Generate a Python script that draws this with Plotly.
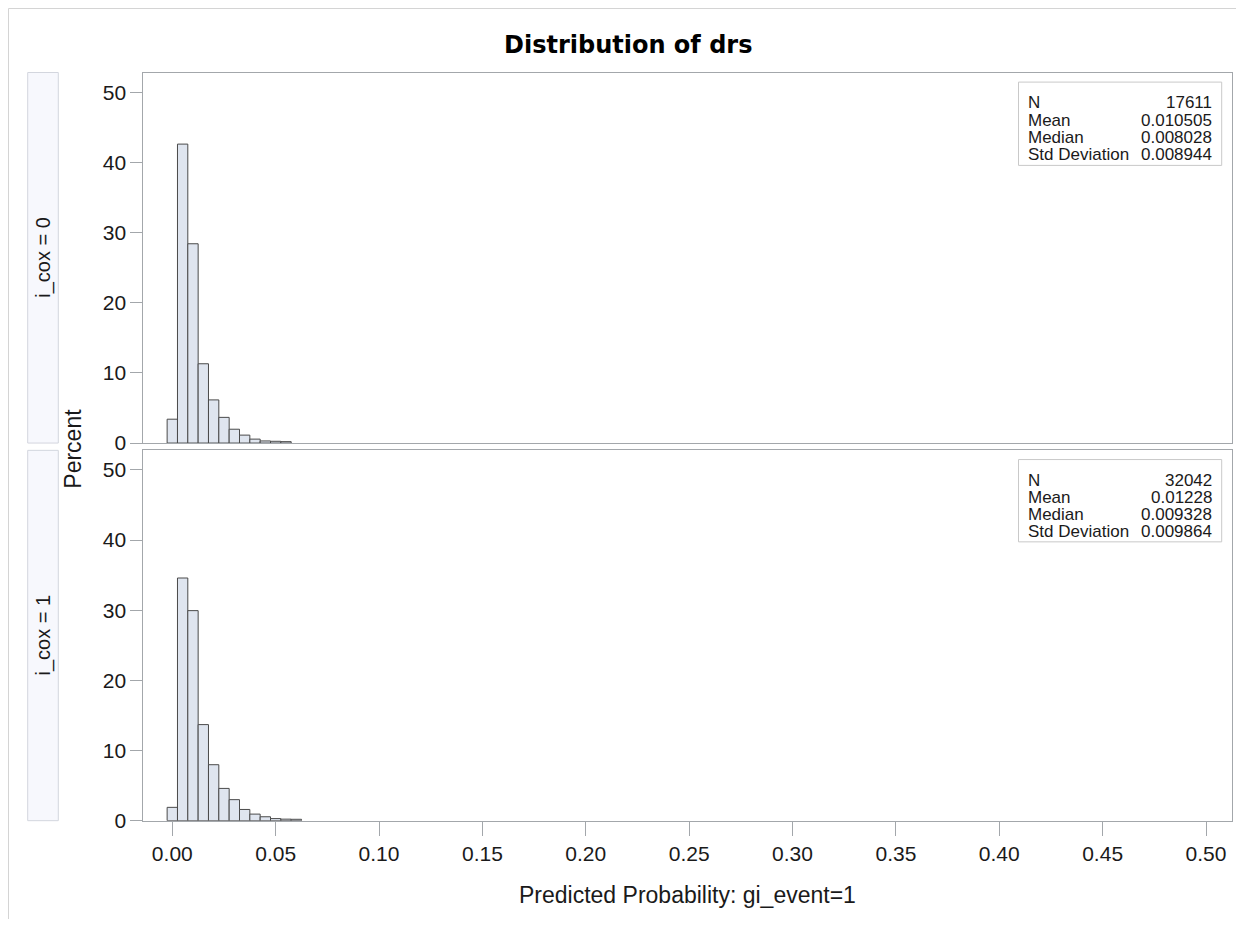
import plotly.graph_objects as go

# ---------------- data ----------------
bin_mid_cox0 = [0.000, 0.005, 0.010, 0.015, 0.020, 0.025, 0.030, 0.035, 0.040, 0.045, 0.050, 0.055]
pct_cox0 = [3.4, 42.6, 28.4, 11.3, 6.15, 3.66, 1.97, 1.13, 0.56, 0.30, 0.25, 0.20]

bin_mid_cox1 = [0.000, 0.005, 0.010, 0.015, 0.020, 0.025, 0.030, 0.035, 0.040, 0.045, 0.050, 0.055, 0.060]
pct_cox1 = [1.9, 34.6, 29.95, 13.7, 7.98, 4.6, 3.0, 1.6, 0.94, 0.56, 0.30, 0.22, 0.20]

bin_width = 0.005

x_tickvals = [0.00, 0.05, 0.10, 0.15, 0.20, 0.25, 0.30, 0.35, 0.40, 0.45, 0.50]
x_ticktext = ["0.00", "0.05", "0.10", "0.15", "0.20", "0.25", "0.30", "0.35", "0.40", "0.45", "0.50"]
y_tickvals = [0, 10, 20, 30, 40, 50]
y_ticktext = ["0", "10", "20", "30", "40", "50"]

stat_labels = ["N", "Mean", "Median", "Std Deviation"]
stats_cox0 = ["17611", "0.010505", "0.008028", "0.008944"]
stats_cox1 = ["32042", "0.01228", "0.009328", "0.009864"]

strip_labels = ["i_cox = 0", "i_cox = 1"]
title_text = "Distribution of drs"
x_title = "Predicted Probability: gi_event=1"
y_title = "Percent"

# ---------------- layout helpers (image pixel -> paper) ----------------
W, H = 1228, 922
OFF = 8  # default body margin of the page


def px(X):
    return (X - OFF) / W


def py(Y):
    return 1 - (Y - OFF) / H


FONT = "Liberation Sans, Arial, Helvetica, sans-serif"
TXT = "#1a1a1a"
AXC = "#a3a7ab"
BAR_FILL = "#dfe5ef"
BAR_LINE = "#4a4a4a"

PL, PR = 143.3, 1231.7
TOP_Y0, TOP_Y1 = 73.3, 448.3
BOT_Y0, BOT_Y1 = 455.7, 830.5

fig = go.Figure()

fig.add_trace(go.Bar(
    x=bin_mid_cox0, y=pct_cox0, width=[bin_width] * len(bin_mid_cox0),
    marker=dict(color=BAR_FILL, line=dict(color=BAR_LINE, width=1)),
    xaxis="x", yaxis="y", showlegend=False, hoverinfo="x+y"))
fig.add_trace(go.Bar(
    x=bin_mid_cox1, y=pct_cox1, width=[bin_width] * len(bin_mid_cox1),
    marker=dict(color=BAR_FILL, line=dict(color=BAR_LINE, width=1)),
    xaxis="x2", yaxis="y2", showlegend=False, hoverinfo="x+y"))

xr = [-0.01403, 0.51243]
yr = [0, 52.8]

common_x = dict(range=xr, showline=True, mirror=True, linecolor=AXC, linewidth=1,
                showgrid=False, zeroline=False, fixedrange=True)
common_y = dict(range=yr, showline=True, mirror=True, linecolor=AXC, linewidth=1,
                showgrid=False, zeroline=False, ticks="outside", ticklen=12,
                tickcolor=AXC, tickwidth=1, tickvals=y_tickvals, ticktext=y_ticktext,
                tickfont=dict(family=FONT, size=21, color=TXT), fixedrange=True)

fig.update_layout(
    width=W, height=H,
    margin=dict(l=0, r=0, t=0, b=0, pad=0),
    paper_bgcolor="white", plot_bgcolor="white",
    barmode="overlay",
    xaxis=dict(domain=[px(PL), px(PR)], anchor="y", ticks="", showticklabels=False, **common_x),
    yaxis=dict(domain=[py(TOP_Y1), py(TOP_Y0)], anchor="x", **common_y),
    xaxis2=dict(domain=[px(PL), px(PR)], anchor="y2", ticks="outside", ticklen=14,
                tickcolor=AXC, tickwidth=1, tickvals=x_tickvals, ticktext=x_ticktext,
                tickfont=dict(family=FONT, size=21, color=TXT), **common_x),
    yaxis2=dict(domain=[py(BOT_Y1), py(BOT_Y0)], anchor="x2", **common_y),
)

shapes = []
annotations = []

# outer frame (left and top edges)
fx = 0.5 / W
fy = 1 - 0.5 / H
shapes.append(dict(type="line", xref="paper", yref="paper", x0=fx, x1=1, y0=fy, y1=fy,
                   line=dict(color="#d4d4d4", width=1)))
shapes.append(dict(type="line", xref="paper", yref="paper", x0=fx, x1=fx, y0=0, y1=fy,
                   line=dict(color="#d4d4d4", width=1)))

# strip boxes + labels
for (y0, y1), lab in zip([(TOP_Y0, TOP_Y1), (BOT_Y0, BOT_Y1)], strip_labels):
    shapes.append(dict(type="rect", xref="paper", yref="paper", x0=px(27.7), x1=px(58.3),
                       y0=py(y1), y1=py(y0), fillcolor="#f7f8fd",
                       line=dict(color="#d3d6de", width=1), layer="below"))
    annotations.append(dict(text=lab, xref="paper", yref="paper", x=px(44), y=py((y0 + y1) / 2),
                            xanchor="center", yanchor="middle", textangle=-90, showarrow=False,
                            font=dict(family=FONT, size=20, color=TXT)))

# stats inset boxes
for (bx0, by0, by1), vals in zip([(1018.5, 83.0, 167.3), (1018.5, 465.0, 548.3)], [stats_cox0, stats_cox1]):
    shapes.append(dict(type="rect", xref="paper", yref="paper", x0=px(bx0), x1=px(1221.7),
                       y0=py(by1), y1=py(by0), fillcolor="rgba(255,255,255,0)",
                       line=dict(color="#c9c9c9", width=1)))
    for i, (lab, v) in enumerate(zip(stat_labels, vals)):
        yc = by0 + 21.0 + i * 17.4
        annotations.append(dict(text=lab, xref="paper", yref="paper", x=px(1025.5), y=py(yc),
                                xanchor="left", yanchor="middle", showarrow=False,
                                font=dict(family=FONT, size=17, color=TXT)))
        annotations.append(dict(text=v, xref="paper", yref="paper", x=px(1214), y=py(yc),
                                xanchor="right", yanchor="middle", showarrow=False,
                                font=dict(family=FONT, size=17, color=TXT)))

# title
annotations.append(dict(text="<b>" + title_text + "</b>", xref="paper", yref="paper", x=px(628.5), y=py(45),
                        xanchor="center", yanchor="middle", showarrow=False,
                        font=dict(family="DejaVu Sans, Verdana, sans-serif", size=24, color="#000000")))
# x title
annotations.append(dict(text=x_title, xref="paper", yref="paper", x=px((PL + PR) / 2), y=py(906),
                        xanchor="center", yanchor="middle", showarrow=False,
                        font=dict(family=FONT, size=23, color=TXT)))
# y title
annotations.append(dict(text=y_title, xref="paper", yref="paper", x=px(73), y=py(454),
                        xanchor="center", yanchor="middle", textangle=-90, showarrow=False,
                        font=dict(family=FONT, size=23, color=TXT)))

fig.update_layout(shapes=shapes, annotations=annotations)

fig.write_html("out.html")
